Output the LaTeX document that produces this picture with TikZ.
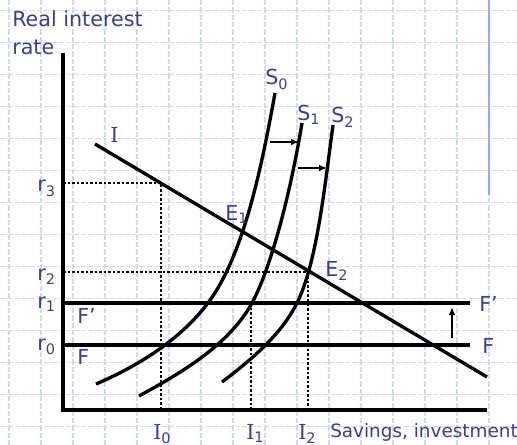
\documentclass[tikz,border=0pt]{standalone}
\usepackage{fontspec}
\setmainfont{DejaVu Sans}
\newfontfamily\serifI{DejaVu Serif}
\usetikzlibrary{arrows.meta}
\definecolor{labelblue}{RGB}{58,64,140}
\definecolor{gridblue}{RGB}{208,218,248}
\definecolor{barblue}{RGB}{150,168,245}
\tikzset{
  gridline/.style={gridblue, line width=0.8pt, dash pattern=on 4pt off 1.5pt},
  curve/.style={line width=2.5pt},
  guide/.style={line width=1.9pt, dash pattern=on 1.9pt off 1.5pt},
  movearrow/.style={line width=2pt, -{Latex[length=6pt,width=5pt]}},
  lbl/.style={text=labelblue, inner sep=0pt, font=\fontsize{15.5}{18}\selectfont},
}
\newcommand{\Ilab}{{\serifI I}}
\begin{document}
\begin{tikzpicture}[x=0.75pt,y=-0.75pt]
\path[use as bounding box, fill=white] (0,0) rectangle (517,445);
% squared paper
\foreach \gx in {0,...,16} \draw[gridline] (9+32*\gx,0) -- (9+32*\gx,445);
\foreach \gy in {0,...,13} \draw[gridline] (0,10.7+32*\gy) -- (517,10.7+32*\gy);
\draw[barblue, line width=1.5pt] (489,0) -- (489,195);

% axes
\coordinate (ytop) at (63,53);
\coordinate (O) at (63,410);
\coordinate (xend) at (487,410);
\draw[curve] (ytop) -- (O) -- (xend);
\node[lbl, anchor=base west] (ylab1) at (12,27) {Real interest};
\node[lbl, anchor=base west] (ylab2) at (12,55) {rate};
\node[lbl, anchor=base west, font=\fontsize{13.8}{16}\selectfont] (xlab) at (330,437) {Savings, investment};

% investment line
\coordinate (Itop) at (95,144);
\coordinate (Iend) at (487,377);
\draw[curve] (Itop) -- (Iend);
\node[lbl, anchor=base west] (Ilabel) at (110,143) {\Ilab};

% savings curves
\draw[curve] (96,384) .. controls (138,366) and (180,340) .. (208,303)
                      .. controls (244,255) and (262,165) .. (275,93);
\draw[curve] (139,396) .. controls (181,373) and (229,345) .. (252,303)
                       .. controls (273,264) and (292,184) .. (302,123);
\draw[curve] (222,382) .. controls (251,360) and (281,335) .. (297,303)
                       .. controls (317,263) and (325,184) .. (333,125);
\node[lbl, anchor=base west] (S0) at (265,85) {S\textsubscript{0}};
\node[lbl, anchor=base west] (S1) at (297,121) {S\textsubscript{1}};
\node[lbl, anchor=base west] (S2) at (331,123) {S\textsubscript{2}};

% shifts
\coordinate (a0) at (270,142);
\coordinate (a1) at (299,142);
\coordinate (b0) at (298,168);
\coordinate (b1) at (327,168);
\draw[movearrow] (a0) -- (a1);
\draw[movearrow] (b0) -- (b1);

% world rate F, F'
\coordinate (F0) at (63,345);
\coordinate (F0e) at (470,345);
\coordinate (F1) at (63,303);
\coordinate (F1e) at (470,303);
\draw[curve] (F0) -- (F0e);
\draw[curve] (F1) -- (F1e);
\node[lbl, anchor=base west] (Fin) at (77,364) {F};
\node[lbl, anchor=base west] (Fpin) at (77,323) {F’};
\node[lbl, anchor=base west] (Fout) at (482,353) {F};
\node[lbl, anchor=base west] (Fpout) at (479,311) {F’};
\coordinate (up0) at (452,338);
\coordinate (up1) at (452,307);
\draw[movearrow] (up0) -- (up1);

% equilibria and guides
\coordinate (E1) at (243,233);
\coordinate (E2) at (308,272);
\coordinate (A3) at (161,183);
\coordinate (B1) at (251,303);
\node[lbl, anchor=base west] (E1lab) at (225,220) {E\textsubscript{1}};
\node[lbl, anchor=base west] (E2lab) at (325,276) {E\textsubscript{2}};
\draw[guide] (A3 -| O) -- (A3) -- (A3 |- O);
\draw[guide] (E2 -| O) -- (E2) -- (E2 |- O);
\draw[guide] (B1) -- (B1 |- O);

% rate and quantity labels
\node[lbl, anchor=base east] (r3) at (56,192) {r\textsubscript{3}};
\node[lbl, anchor=base east] (r2) at (56,280) {r\textsubscript{2}};
\node[lbl, anchor=base east] (r1) at (56,308) {r\textsubscript{1}};
\node[lbl, anchor=base east] (r0) at (56,350) {r\textsubscript{0}};
\node[lbl, anchor=base west] (I0) at (153,439) {\Ilab\textsubscript{0}};
\node[lbl, anchor=base west] (I1) at (246,439) {\Ilab\textsubscript{1}};
\node[lbl, anchor=base west] (I2) at (298,439) {\Ilab\textsubscript{2}};
\end{tikzpicture}
\end{document}
